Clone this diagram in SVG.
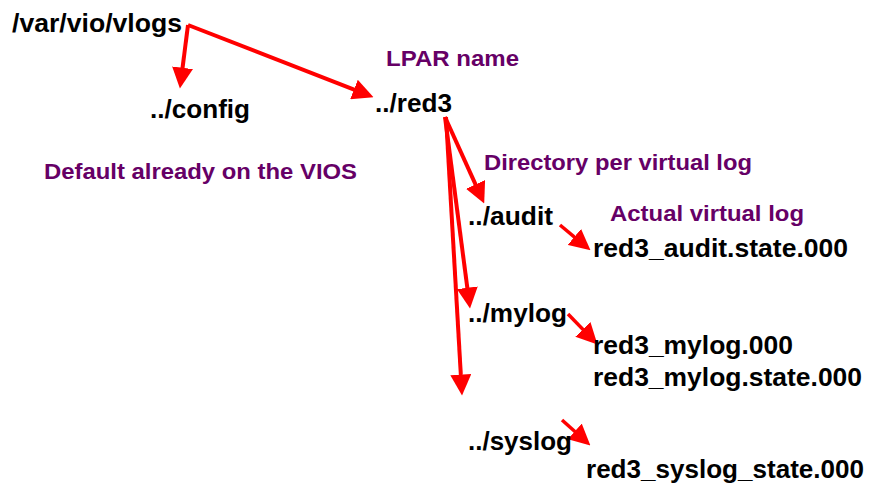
<svg xmlns="http://www.w3.org/2000/svg" width="872" height="488" viewBox="0 0 872 488">
  <style>
    .path { font-family: "Liberation Sans", Arial, sans-serif; font-weight: bold; font-size: 25px; fill: #000; }
    .note { font-family: "Liberation Sans", Arial, sans-serif; font-weight: bold; font-size: 22px; fill: #660066; }
    .arrow { stroke: #ff0000; stroke-width: 4; fill: none; marker-end: url(#head); }
    .arrow.small { stroke-width: 3.5; }
  </style>
  <defs>
    <marker id="head" viewBox="0 0 20 20" refX="8" refY="10" markerWidth="21" markerHeight="21" markerUnits="userSpaceOnUse" orient="auto">
      <path d="M0,0 L20,10 L0,20 z" fill="#ff0000"/>
    </marker>
  </defs>
  <rect width="872" height="488" fill="#ffffff"/>

  <g id="connectors">
    <line class="arrow" x1="188" y1="25" x2="181.5" y2="76.1"/>
    <line class="arrow" x1="188" y1="25" x2="361.8" y2="92.6"/>
    <line class="arrow" x1="445" y1="117" x2="479.0" y2="192.1"/>
    <line class="arrow" x1="445" y1="117" x2="468.4" y2="296.1"/>
    <line class="arrow" x1="446" y1="117" x2="461.3" y2="383.0"/>
    <line class="arrow small" x1="560" y1="225" x2="580.8" y2="242.3"/>
    <line class="arrow small" x1="568" y1="314" x2="588.7" y2="335.4"/>
    <line class="arrow small" x1="562" y1="420" x2="581.0" y2="437.0"/>
  </g>

  <g id="vlogs"><text class="path" x="12" y="32" textLength="170" lengthAdjust="spacingAndGlyphs">/var/vio/vlogs</text></g>
  <g id="config"><text class="path" x="150" y="118" textLength="100" lengthAdjust="spacingAndGlyphs">../config</text></g>
  <g id="red3"><text class="path" x="375" y="112" textLength="77" lengthAdjust="spacingAndGlyphs">../red3</text></g>
  <g id="audit"><text class="path" x="468" y="225" textLength="85" lengthAdjust="spacingAndGlyphs">../audit</text></g>
  <g id="audit-file"><text class="path" x="593" y="257" textLength="255" lengthAdjust="spacingAndGlyphs">red3_audit.state.000</text></g>
  <g id="mylog"><text class="path" x="468" y="322" textLength="99" lengthAdjust="spacingAndGlyphs">../mylog</text></g>
  <g id="mylog-files">
    <text class="path" x="593" y="354" textLength="200" lengthAdjust="spacingAndGlyphs">red3_mylog.000</text>
    <text class="path" x="593" y="386" textLength="269" lengthAdjust="spacingAndGlyphs">red3_mylog.state.000</text>
  </g>
  <g id="syslog"><text class="path" x="468" y="450" textLength="104" lengthAdjust="spacingAndGlyphs">../syslog</text></g>
  <g id="syslog-file"><text class="path" x="586" y="478" textLength="278" lengthAdjust="spacingAndGlyphs">red3_syslog_state.000</text></g>

  <g id="notes">
    <text class="note" x="386" y="66" textLength="133" lengthAdjust="spacingAndGlyphs">LPAR name</text>
    <text class="note" x="44" y="179" textLength="313" lengthAdjust="spacingAndGlyphs">Default already on the VIOS</text>
    <text class="note" x="484" y="170" textLength="268" lengthAdjust="spacingAndGlyphs">Directory per virtual log</text>
    <text class="note" x="610" y="221" textLength="194" lengthAdjust="spacingAndGlyphs">Actual virtual log</text>
  </g>
</svg>
